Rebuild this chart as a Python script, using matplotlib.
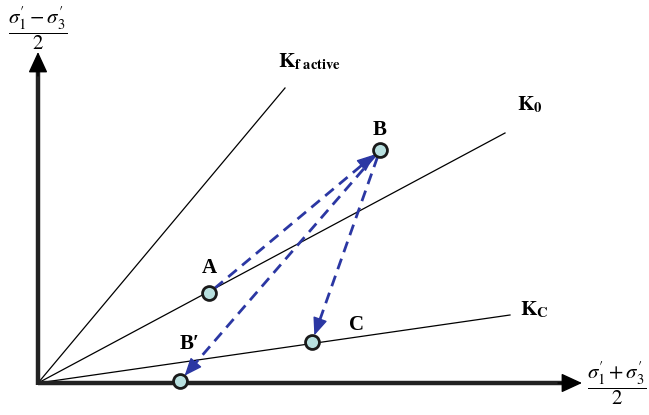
import numpy as np
import matplotlib.pyplot as plt

plt.rcParams['mathtext.fontset'] = 'stix'

# stress points (p' , q)
point_names = ['A', 'B', "B\u2032", 'C']
point_x = [171, 342, 142, 274]
point_y = [90, 233, 2, 41]

# K lines: end points measured from the origin
line_names = ['K_f', 'K_0', 'K_C']
line_x = [247, 467, 472]
line_y = [295, 250, 68]

# stress paths (from index -> to index)
paths = [(0, 1), (1, 2), (1, 3)]

blue = '#2b37a3'

fig = plt.figure(figsize=(6.49, 4.15), dpi=100)
ax = fig.add_axes([0, 0, 1, 1])
ax.set_xlim(-38, 611)
ax.set_ylim(-32, 383)
ax.axis('off')

# K lines
for lx, ly in zip(line_x, line_y):
    ax.plot([0, lx], [0, ly], color='black', lw=0.9, zorder=2)

# axes with arrow heads
ax.plot([0, 530], [0, 0], color='#222222', lw=3.2, solid_capstyle='butt', zorder=3)
ax.plot([0, 0], [-1.5, 318], color='#222222', lw=3.2, solid_capstyle='butt', zorder=3)
ax.annotate('', xy=(544, 0), xytext=(520, 0),
            arrowprops=dict(arrowstyle='-|>,head_length=1.3,head_width=0.6',
                            color='black', lw=1, shrinkA=0, shrinkB=0), zorder=3)
ax.annotate('', xy=(0, 331), xytext=(0, 307),
            arrowprops=dict(arrowstyle='-|>,head_length=1.3,head_width=0.6',
                            color='black', lw=1, shrinkA=0, shrinkB=0), zorder=3)

# dashed stress paths with solid heads
for i, j in paths:
    x0, y0 = point_x[i], point_y[i]
    x1, y1 = point_x[j], point_y[j]
    d = np.hypot(x1 - x0, y1 - y0)
    ux, uy = (x1 - x0) / d, (y1 - y0) / d
    sx, sy = x0 + ux * 7, y0 + uy * 7
    ex, ey = x1 - ux * 7, y1 - uy * 7
    ax.plot([sx, ex - ux * 12], [sy, ey - uy * 12], color=blue, lw=2,
            dashes=(4, 2.5), zorder=4)
    ax.annotate('', xy=(ex, ey), xytext=(ex - ux * 16, ey - uy * 16),
                arrowprops=dict(arrowstyle='-|>,head_length=1.1,head_width=0.45',
                                color=blue, lw=1, shrinkA=0, shrinkB=0), zorder=4)

ax.plot(point_x, point_y, 'o', ms=10, mfc='#b8e0df', mec='#1a1a1a', mew=2,
        ls='none', zorder=5)

# labels
serif = 'Liberation Serif'
lab_off = [(0, 25), (0, 20), (10, 37), (45, 17)]
for name, px, py, (dx, dy) in zip(point_names, point_x, point_y, lab_off):
    ax.text(px + dx, py + dy, name, fontsize=15, fontweight='bold', family=serif,
            ha='center', va='center')

ax.text(240, 321, r'$\mathbf{K}_{\mathbf{f\ active}}$', fontsize=15, ha='left', va='center')
ax.text(479, 278, r'$\mathbf{K}_{\mathbf{0}}$', fontsize=15, ha='left', va='center')
ax.text(482, 73, r'$\mathbf{K}_{\mathbf{C}}$', fontsize=15, ha='left', va='center')

ax.text(0, 355, r"$\dfrac{\sigma_1' - \sigma_3'}{2}$", fontsize=15, ha='center', va='center')
ax.text(579, 0, r"$\dfrac{\sigma_1' + \sigma_3'}{2}$", fontsize=15, ha='center', va='center')

fig.savefig('out.png', dpi=100)
